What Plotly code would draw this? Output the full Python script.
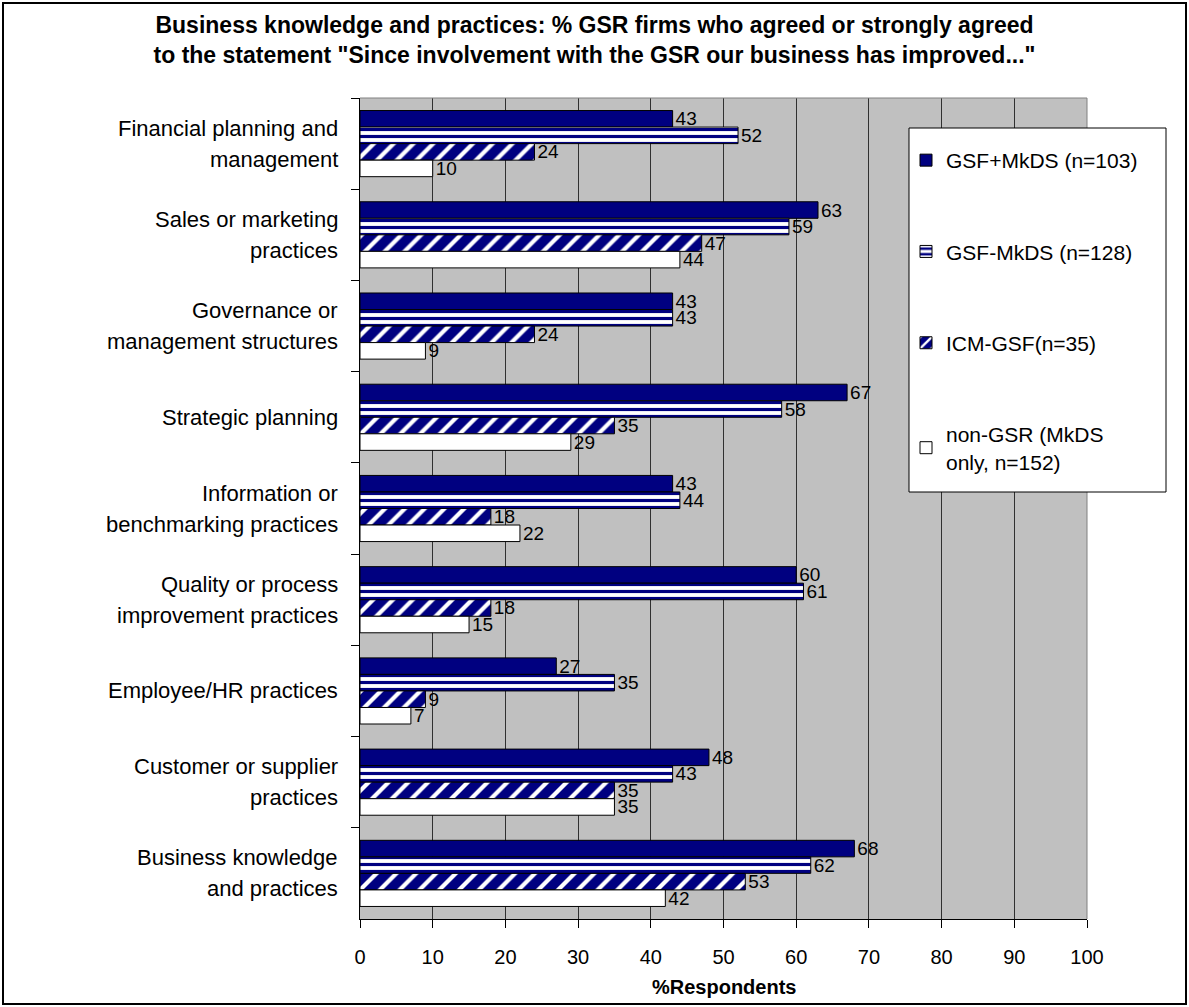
import plotly.graph_objects as go

# Categories, top to bottom
categories = [
    "Financial planning and\nmanagement",
    "Sales or marketing\npractices",
    "Governance or\nmanagement structures",
    "Strategic planning",
    "Information or\nbenchmarking practices",
    "Quality or process\nimprovement practices",
    "Employee/HR practices",
    "Customer or supplier\npractices",
    "Business knowledge\nand practices",
]

series_names = [
    "GSF+MkDS (n=103)",
    "GSF-MkDS (n=128)",
    "ICM-GSF(n=35)",
    "non-GSR (MkDS<br>only, n=152)",
]

gsf_mkds = [43, 63, 43, 67, 43, 60, 27, 48, 68]
gsf_no_mkds = [52, 59, 43, 58, 44, 61, 35, 43, 62]
icm_gsf = [24, 47, 24, 35, 18, 18, 9, 35, 53]
non_gsr = [10, 44, 9, 29, 22, 15, 7, 35, 42]

x_ticks = list(range(0, 101, 10))

NAVY = "#000080"
FONT = "Liberation Sans, Arial, sans-serif"

W, H = 1189, 1007
ML, MR, MT, MB = 360, W - 1087, 98, H - 919
PW, PH = W - ML - MR, H - MT - MB

cat_keys = [c.replace("\n", " ") for c in categories]

styles = [
    dict(color=NAVY),
    dict(color="white",
         pattern=dict(shape="-", fgcolor=NAVY, bgcolor="white",
                      size=7, solidity=0.45, fillmode="replace")),
    dict(color=NAVY,
         pattern=dict(shape="/", fgcolor="white", bgcolor=NAVY,
                      size=14, solidity=0.3, fillmode="replace")),
    dict(color="white"),
]

fig = go.Figure()
for name, vals, st in zip(series_names,
                          [gsf_mkds, gsf_no_mkds, icm_gsf, non_gsr], styles):
    marker = dict(st)
    marker["line"] = dict(color="black", width=1)
    fig.add_trace(go.Bar(
        y=cat_keys, x=vals, orientation="h", name=name,
        legendgroup=name,
        marker=marker,
        text=vals, textposition="outside", constraintext="none",
        textfont=dict(family=FONT, size=19, color="black"),
        cliponaxis=False,
    ))

# category labels, centred multi-line text left of the axis
annotations = []
for key, label in zip(cat_keys, categories):
    lines = label.split("\n")
    n = len(lines)
    for i, line in enumerate(lines):
        annotations.append(dict(
            x=0, xref="paper", y=key, yref="y", xanchor="right",
            yanchor="middle", xshift=-20, yshift=(n - 1) * 15.5 - i * 31,
            text=line, showarrow=False, align="center",
            font=dict(family=FONT, size=22, color="black"),
        ))

annotations.append(dict(
    x=0.5, xref="paper", y=(919 - 987) / PH, yref="paper",
    xanchor="center", yanchor="middle", showarrow=False,
    text="<b>%Respondents</b>",
    font=dict(family=FONT, size=20, color="black"),
))

shapes = [
    # outer frame
    dict(type="rect", xref="paper", yref="paper",
         x0=(3 - ML) / PW, x1=(1186 - ML) / PW,
         y0=(919 - 1004) / PH, y1=(919 - 3) / PH,
         line=dict(color="black", width=2), fillcolor="rgba(0,0,0,0)",
         layer="above"),
    # plot area top/right border
    dict(type="line", xref="paper", yref="paper", x0=0, x1=1, y0=1, y1=1,
         line=dict(color="#808080", width=1), layer="above"),
    dict(type="line", xref="paper", yref="paper", x0=1, x1=1, y0=0, y1=1,
         line=dict(color="#808080", width=1), layer="above"),
    # legend box
    dict(type="rect", xref="paper", yref="paper",
         x0=(909 - ML) / PW, x1=(1166 - ML) / PW,
         y0=(919 - 492) / PH, y1=(919 - 128) / PH,
         line=dict(color="black", width=1), fillcolor="white",
         layer="above"),
]

fig.update_layout(
    width=W, height=H,
    margin=dict(l=ML, r=MR, t=MT, b=MB),
    paper_bgcolor="white",
    plot_bgcolor="#C0C0C0",
    barmode="group",
    bargap=0.275,
    bargroupgap=0,
    font=dict(family=FONT, size=19, color="black"),
    title=dict(
        text="<b>Business knowledge and practices: % GSR firms who agreed or strongly agreed"
             "<br>to the statement \"Since involvement with the GSR our business has improved...\"</b>",
        x=0.5, xanchor="center", y=1 - 33 / H, yanchor="middle",
        font=dict(family=FONT, size=23, color="black"),
    ),
    xaxis=dict(
        range=[0, 100], tickvals=x_ticks, ticktext=[str(v) for v in x_ticks],
        showgrid=True, gridcolor="#303030", gridwidth=1,
        showline=True, linecolor="black", linewidth=1,
        ticks="outside", ticklen=8, tickcolor="black",
        ticklabelstandoff=12,
        tickfont=dict(family=FONT, size=20, color="black"),
        zeroline=False, fixedrange=True,
    ),
    yaxis=dict(
        type="category", categoryorder="array", categoryarray=cat_keys,
        autorange="reversed",
        showticklabels=False, tickson="boundaries",
        ticks="outside", ticklen=8, tickcolor="black",
        showgrid=False, showline=True, linecolor="black", linewidth=1,
        zeroline=False, fixedrange=True,
    ),
    legend=dict(
        x=(906 - ML) / PW, xanchor="left",
        y=(919 - 140) / PH, yanchor="top",
        bgcolor="rgba(0,0,0,0)", borderwidth=0,
        tracegroupgap=61,
        font=dict(family=FONT, size=21, color="black"),
        traceorder="grouped",
    ),
    annotations=annotations,
    shapes=shapes,
)

fig.write_html("out.html")
